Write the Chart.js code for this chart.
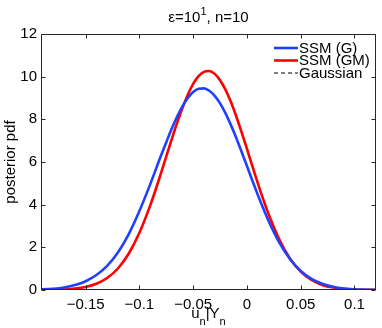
<!DOCTYPE html>
<html>
<head>
<meta charset="utf-8">
<script src="https://cdn.jsdelivr.net/npm/chart.js@4"></script>
<style>
  html, body { margin: 0; padding: 0; background: #fff; }
  #wrap { width: 382px; height: 328px; }
</style>
</head>
<body>
<div id="wrap"><canvas id="c" width="382" height="328"></canvas></div>
<script>
// values
const xValues = [-0.2, -0.19, -0.18, -0.17, -0.16, -0.15, -0.14, -0.13, -0.12, -0.11, -0.10, -0.09,
  -0.085, -0.08, -0.075, -0.07, -0.065, -0.06, -0.055, -0.05, -0.045, -0.04, -0.035, -0.03, -0.025,
  -0.02, -0.015, -0.01, -0.005, 0, 0.005, 0.01, 0.015,
  0.02, 0.03, 0.04, 0.05, 0.06, 0.07, 0.08, 0.09, 0.10, 0.11, 0.12]
const ssmG = [0.015, 0.03, 0.06, 0.12, 0.23, 0.41, 0.70, 1.13, 1.76, 2.61, 3.70, 4.95,
  5.62, 6.29, 6.93, 7.56, 8.12, 8.61, 9.00, 9.28, 9.43, 9.45, 9.34, 9.10, 8.75,
  8.29, 7.74, 7.14, 6.48, 5.81, 5.13, 4.47, 3.84,
  3.25, 2.23, 1.45, 0.89, 0.52, 0.29, 0.15, 0.07, 0.03, 0.015, 0.006]
const ssmGM = [0.001, 0.004, 0.011, 0.027, 0.064, 0.141, 0.291, 0.560, 1.008, 1.700, 2.681, 3.956,
  4.686, 5.465, 6.262, 7.058, 7.827, 8.535, 9.156, 9.658, 10.021, 10.226, 10.263, 10.131, 9.837,
  9.392, 8.821, 8.147, 7.402, 6.614, 5.813, 5.024, 4.271,
  3.570, 2.375, 1.479, 0.860, 0.469, 0.239, 0.114, 0.051, 0.021, 0.008, 0.003]
const gaussian = [0.001, 0.004, 0.011, 0.027, 0.063, 0.139, 0.288, 0.556, 1.002, 1.693, 2.673, 3.948,
  4.678, 5.457, 6.255, 7.052, 7.822, 8.532, 9.155, 9.659, 10.024, 10.230, 10.268, 10.138, 9.846,
  9.402, 8.833, 8.160, 7.416, 6.628, 5.828, 5.039, 4.286,
  3.585, 2.389, 1.490, 0.868, 0.474, 0.242, 0.116, 0.052, 0.021, 0.008, 0.003]
const xTicks = [-0.15, -0.1, -0.05, 0, 0.05, 0.1]
const yTicks = [0, 2, 4, 6, 8, 10, 12]
const seriesLabels = ['SSM (G)', 'SSM (GM)', 'Gaussian']

const FONT = "'Liberation Sans', Arial, Helvetica, sans-serif"
Chart.defaults.font.family = FONT
Chart.defaults.font.size = 15
Chart.defaults.color = '#000'

const pts = ys => xValues.map((x, i) => ({ x, y: ys[i] }))
const fmt = v => (v < 0 ? '\u2212' : '') + String(Math.abs(v))

// MATLAB-style box with inward ticks on all four sides
const framePlugin = {
  id: 'frame',
  afterDatasetsDraw(chart) {
    const { ctx, chartArea: a, scales: { x, y } } = chart
    const L = Math.round(a.left) + 0.5, R = Math.round(a.right) - 0.5
    const T = Math.round(a.top) + 0.5, B = Math.round(a.bottom) - 0.5
    ctx.save()
    ctx.strokeStyle = '#262626'
    ctx.lineWidth = 1
    ctx.beginPath()
    ctx.rect(L, T, R - L, B - T)
    const tl = 4
    xTicks.forEach(v => {
      const px = Math.round(x.getPixelForValue(v)) + 0.5
      ctx.moveTo(px, B); ctx.lineTo(px, B - tl)
      ctx.moveTo(px, T); ctx.lineTo(px, T + tl)
    })
    yTicks.forEach(v => {
      const py = Math.round(y.getPixelForValue(v)) + 0.5
      ctx.moveTo(L, py); ctx.lineTo(L + tl, py)
      ctx.moveTo(R, py); ctx.lineTo(R - tl, py)
    })
    ctx.stroke()
    ctx.restore()
  }
}

// title with superscript, x label with subscripts, and the legend
const textPlugin = {
  id: 'texts',
  afterDraw(chart) {
    const { ctx, chartArea: a } = chart
    const cx = (a.left + a.right) / 2
    ctx.save()
    ctx.fillStyle = '#000'
    ctx.textBaseline = 'alphabetic'
    ctx.textAlign = 'left'

    // title: ε=10^1, n=10
    const big = '15px ' + FONT, small = '11px ' + FONT
    const parts = [['\u03b5=10', big, 0], ['1', small, -7], [', n=10', big, 0]]
    let w = 0
    parts.forEach(p => { ctx.font = p[1]; w += ctx.measureText(p[0]).width })
    let tx = cx - w / 2
    parts.forEach(p => { ctx.font = p[1]; ctx.fillText(p[0], tx, 22 + p[2]); tx += ctx.measureText(p[0]).width })

    // x label: u_n|Y_n
    const xl = [['u', big, 0], ['n', small, 7], ['|', big, 0], ['Y', big, 0], ['n', small, 7]]
    w = 0
    xl.forEach(p => { ctx.font = p[1]; w += ctx.measureText(p[0]).width })
    tx = cx - w / 2
    xl.forEach(p => { ctx.font = p[1]; ctx.fillText(p[0], tx, 318 + p[2]); tx += ctx.measureText(p[0]).width })

    // legend
    ctx.font = big
    ctx.textBaseline = 'middle'
    const lx0 = 274, lx1 = 298, rowY = [48, 60.5, 73]
    chart.data.datasets.forEach((ds, i) => {
      ctx.beginPath()
      ctx.strokeStyle = ds.borderColor
      ctx.lineWidth = ds.borderWidth
      ctx.setLineDash(ds.borderDash || [])
      ctx.moveTo(lx0, rowY[i]); ctx.lineTo(lx1, rowY[i])
      ctx.stroke()
      ctx.setLineDash([])
      ctx.fillText(ds.label, lx1 + 1, rowY[i] + 0.5)
    })
    ctx.restore()
  }
}

new Chart(document.getElementById('c'), {
  type: 'line',
  data: {
    datasets: [
      { label: seriesLabels[0], data: pts(ssmG), borderColor: '#2040ff', borderWidth: 2.6 },
      { label: seriesLabels[1], data: pts(ssmGM), borderColor: '#ff0000', borderWidth: 2.6 },
      { label: seriesLabels[2], data: pts(gaussian), borderColor: '#000000', borderWidth: 1, borderDash: [4, 3] }
    ]
  },
  options: {
    responsive: false,
    animation: false,
    devicePixelRatio: 1,
    layout: { padding: { top: 34, right: 6, left: 0, bottom: 0 } },
    elements: {
      point: { radius: 0 },
      line: { cubicInterpolationMode: 'monotone', fill: false }
    },
    plugins: {
      legend: { display: false },
      tooltip: { enabled: false }
    },
    scales: {
      x: {
        type: 'linear',
        min: -0.1915,
        max: 0.12,
        grid: { display: false, drawTicks: false, tickLength: 0 },
        border: { display: false },
        afterBuildTicks: s => { s.ticks = xTicks.map(v => ({ value: v })) },
        afterFit: s => { s.height = 38 },
        ticks: { padding: 6, maxRotation: 0, autoSkip: false, callback: v => fmt(v) }
      },
      y: {
        min: 0,
        max: 12,
        grid: { display: false, drawTicks: false, tickLength: 0 },
        border: { display: false },
        afterBuildTicks: s => { s.ticks = yTicks.map(v => ({ value: v })) },
        afterFit: s => { s.width = 41 },
        ticks: { padding: 4, autoSkip: false },
        title: { display: true, text: 'posterior pdf', padding: { top: 2, bottom: 0 }, font: { size: 15 } }
      }
    }
  },
  plugins: [framePlugin, textPlugin]
})
</script>
</body>
</html>
